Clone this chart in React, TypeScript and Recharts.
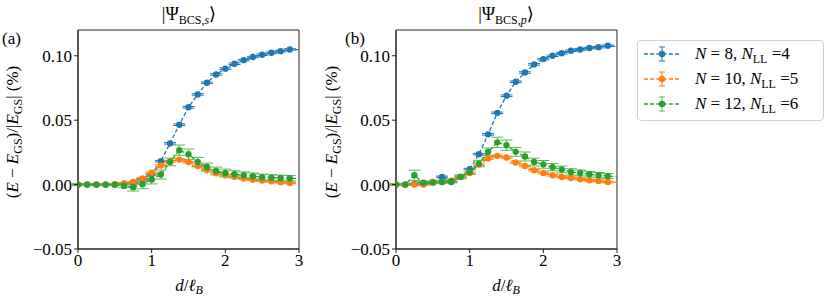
import React from 'react';
import { ComposedChart, Line, XAxis, YAxis, ErrorBar, ReferenceArea } from 'recharts';

// d / l_B grid (last point sits past the axis limit and gets clipped)
const D = [0, 0.125, 0.25, 0.375, 0.5, 0.625, 0.75, 0.875, 1, 1.125, 1.25, 1.375, 1.5, 1.625, 1.75, 1.875, 2, 2.125, 2.25, 2.375, 2.5, 2.625, 2.75, 2.875, 3.125];

// panel (a) |Psi_BCS,s>
const A_N8 = [0, 0, 0, 0, 0, 0.0005, 0.001, 0.004, 0.008, 0.0182, 0.032, 0.0465, 0.06, 0.07, 0.079, 0.0855, 0.09, 0.0938, 0.0966, 0.099, 0.1008, 0.1023, 0.1036, 0.1049, 0.1045];
const A_N10 = [0, 0, 0, 0, 0.0003, 0.0008, 0.002, 0.0047, 0.0092, 0.0148, 0.0181, 0.0194, 0.0175, 0.0144, 0.0113, 0.0088, 0.0072, 0.006, 0.0048, 0.0038, 0.0031, 0.0025, 0.0019, 0.0013, 0.0009];
const A_N12 = [0, 0, 0, 0, 0, -0.001, -0.002, 0.0003, 0.004, 0.0078, 0.0176, 0.0267, 0.0236, 0.0176, 0.0137, 0.0106, 0.009, 0.008, 0.0072, 0.0065, 0.0057, 0.0054, 0.0051, 0.0049, 0.0046];
const A_N12_ERR = [0.0003, 0.0003, 0.0003, 0.0005, 0.0008, 0.0015, 0.003, 0.0035, 0.0035, 0.0035, 0.003, 0.004, 0.004, 0.0035, 0.003, 0.003, 0.003, 0.0028, 0.0026, 0.0025, 0.0024, 0.0023, 0.0022, 0.0021, 0];

// panel (b) |Psi_BCS,p>
const B_N8 = [0, 0, 0.0005, 0.001, 0.002, 0.006, 0.002, 0.006, 0.012, 0.0236, 0.039, 0.0557, 0.069, 0.0798, 0.087, 0.0933, 0.0974, 0.1, 0.102, 0.1039, 0.1049, 0.106, 0.1067, 0.1078, 0.1065];
const B_N10 = [0, 0, 0, 0, 0.002, 0.002, 0.003, 0.006, 0.009, 0.0155, 0.0202, 0.0223, 0.021, 0.0171, 0.0145, 0.0111, 0.009, 0.0072, 0.0059, 0.0051, 0.0041, 0.0033, 0.0028, 0.002, 0.0015];
const B_N12 = [0, 0, 0.0072, 0.0015, 0.0015, 0.002, 0.0026, 0.006, 0.0098, 0.0163, 0.0254, 0.0328, 0.0306, 0.0254, 0.0218, 0.0175, 0.0157, 0.0135, 0.0117, 0.0098, 0.009, 0.008, 0.0073, 0.0066, 0.006];
const B_N12_ERR = [0.0003, 0.0003, 0.004, 0.0008, 0.0008, 0.001, 0.001, 0.0015, 0.002, 0.0025, 0.003, 0.004, 0.004, 0.0035, 0.0035, 0.003, 0.003, 0.0028, 0.0026, 0.0025, 0.0023, 0.0022, 0.0021, 0.002, 0];

// N=8 and N=10 bars are smaller than the markers
const SMALL_ERR = 0.0006;

const X_TICKS = [0, 1, 2, 3];
const Y_TICKS = [-0.05, 0, 0.05, 0.1];

const BLUE = '#1f77b4';
const ORANGE = '#ff7f0e';
const GREEN = '#2ca02c';
const GREEN_ERR = '#5cba5c';

const SERIES = [
    { key: 'n8', color: BLUE, err: BLUE, N: '8', NLL: '4' },
    { key: 'n10', color: ORANGE, err: ORANGE, N: '10', NLL: '5' },
    { key: 'n12', color: GREEN, err: GREEN_ERR, N: '12', NLL: '6' },
];

const FONT = '"Liberation Serif", "DejaVu Serif", serif';

const buildRows = (n8: number[], n10: number[], n12: number[], n12err: number[]) =>
    D.map((x, i) => ({
        x,
        n8: n8[i],
        n8e: x > 3 ? 0 : SMALL_ERR,
        n10: n10[i],
        n10e: x > 3 ? 0 : SMALL_ERR,
        n12: n12[i],
        n12e: n12err[i],
    }));

const PANEL_A = buildRows(A_N8, A_N10, A_N12, A_N12_ERR);
const PANEL_B = buildRows(B_N8, B_N10, B_N12, B_N12_ERR);

const fmtY = (v: number) => (v < 0 ? '\u2212' + Math.abs(v).toFixed(2) : v.toFixed(2));

const sub: React.CSSProperties = { fontSize: 12, position: 'relative', top: 4 };

function Panel({ data }: { data: any[] }) {
    const tick = { fontFamily: FONT, fontSize: 17, fill: '#000' };
    return (
        <ComposedChart width={310} height={301} data={data} margin={{ top: 30, right: 11, bottom: 0, left: 0 }}>
            <XAxis
                dataKey="x"
                type="number"
                domain={[0, 3]}
                ticks={X_TICKS}
                allowDataOverflow
                height={52}
                tickSize={4}
                tickMargin={1}
                tick={tick}
                stroke="#222"
            />
            <YAxis
                type="number"
                domain={[-0.05, 0.12]}
                ticks={Y_TICKS}
                allowDataOverflow
                width={78}
                tickSize={4}
                tickMargin={2}
                tickFormatter={fmtY}
                tick={tick}
                stroke="#222"
            />
            {SERIES.map((s) => (
                <Line
                    key={s.key}
                    dataKey={s.key}
                    stroke={s.color}
                    strokeWidth={1.3}
                    strokeDasharray="4 2.2"
                    dot={{ r: 3.2, fill: s.color, stroke: 'none', strokeDasharray: '' }}
                    activeDot={false}
                    isAnimationActive={false}
                >
                    <ErrorBar dataKey={s.key + 'e'} width={6} stroke={s.err} strokeWidth={1} direction="y" />
                </Line>
            ))}
            <ReferenceArea x1={0} x2={3} y1={-0.05} y2={0.12} fill="none" stroke="#222" strokeWidth={1} />
        </ComposedChart>
    );
}

function LegendIcon({ color, err }: { color: string; err: string }) {
    return (
        <svg width={36} height={20} style={{ display: 'block' }}>
            <line x1={0} y1={10} x2={36} y2={10} stroke={color} strokeWidth={1.3} strokeDasharray="4 2.2" />
            <line x1={18} y1={3} x2={18} y2={17} stroke={err} strokeWidth={1} />
            <line x1={15} y1={3} x2={21} y2={3} stroke={err} strokeWidth={1} />
            <line x1={15} y1={17} x2={21} y2={17} stroke={err} strokeWidth={1} />
            <circle cx={18} cy={10} r={3.2} fill={color} />
        </svg>
    );
}

const abs = (left: number, top: number, extra?: React.CSSProperties): React.CSSProperties => ({
    position: 'absolute',
    left,
    top,
    fontFamily: FONT,
    color: '#000',
    whiteSpace: 'nowrap',
    lineHeight: 1,
    ...extra,
});

function YLabel({ cx }: { cx: number }) {
    return (
        <div style={abs(cx, 132, { fontSize: 17, transform: 'translate(-50%, -50%) rotate(-90deg)' })}>
            (<i>E</i> − <i>E</i>
            <span style={sub}>GS</span>)/|<i>E</i>
            <span style={sub}>GS</span>| (%)
        </div>
    );
}

function XLabel({ cx }: { cx: number }) {
    return (
        <div style={abs(cx, 277, { fontSize: 17, transform: 'translateX(-50%)' })}>
            <i>d</i>/<i>ℓ</i>
            <span style={{ ...sub, top: 3 }}>
                <i>B</i>
            </span>
        </div>
    );
}

function Title({ cx, sym }: { cx: number; sym: string }) {
    return (
        <div style={abs(cx, 5, { fontSize: 18, transform: 'translateX(-50%)' })}>
            |Ψ
            <span style={sub}>
                BCS,<i>{sym}</i>
            </span>
            ⟩
        </div>
    );
}

export default function App() {
    return (
        <div style={{ position: 'absolute', left: 0, top: 0, width: 831, height: 301, background: '#fff', overflow: 'hidden' }}>
            <div style={{ position: 'absolute', left: 0, top: 0 }}>
                <Panel data={PANEL_A} />
            </div>
            <div style={{ position: 'absolute', left: 318, top: 0 }}>
                <Panel data={PANEL_B} />
            </div>

            <Title cx={189} sym="s" />
            <Title cx={506} sym="p" />
            <div style={abs(2, 30, { fontSize: 17 })}>(a)</div>
            <div style={abs(345, 30, { fontSize: 17 })}>(b)</div>
            <YLabel cx={12} />
            <YLabel cx={331} />
            <XLabel cx={189} />
            <XLabel cx={506} />

            {/* Legend */}
            <div
                style={{
                    position: 'absolute',
                    left: 637,
                    top: 40,
                    width: 185,
                    height: 79,
                    border: '1px solid #d0d0d0',
                    borderRadius: 4,
                    fontFamily: FONT,
                    fontSize: 17,
                }}
            >
                {SERIES.map((s, i) => (
                    <div key={s.key} style={{ position: 'absolute', left: 6, top: 3 + i * 25, height: 20, display: 'flex', alignItems: 'center', gap: 15, whiteSpace: 'nowrap' }}>
                        <LegendIcon color={s.color} err={s.err} />
                        <span>
                            <i>N</i> = {s.N}, <i>N</i>
                            <span style={sub}>LL</span> ={s.NLL}
                        </span>
                    </div>
                ))}
            </div>
        </div>
    );
}
